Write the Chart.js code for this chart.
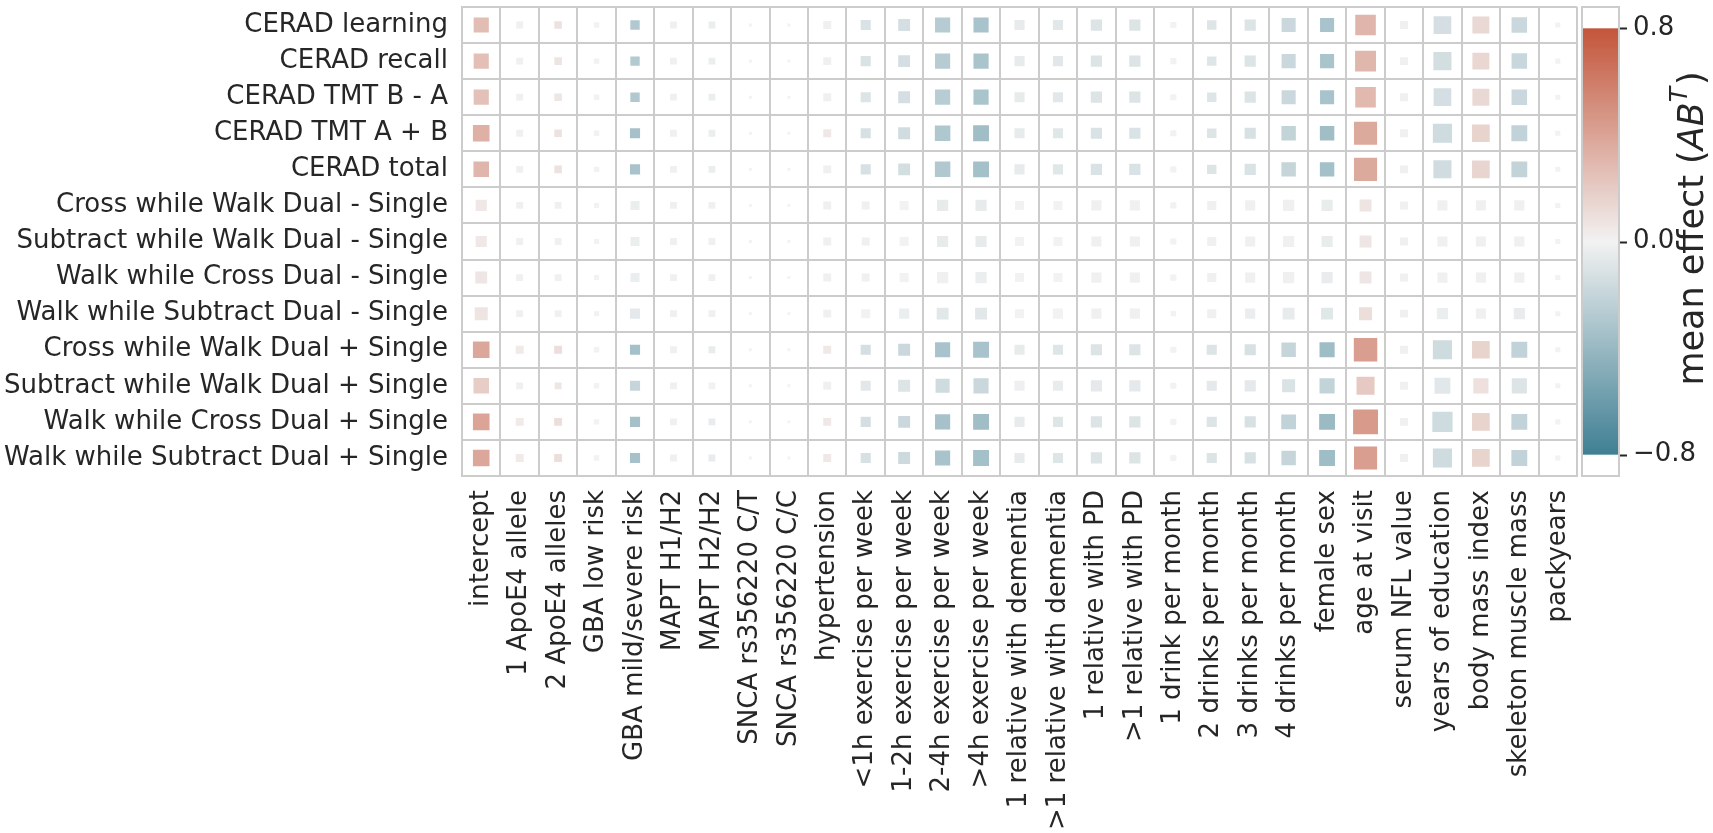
<!DOCTYPE html>
<html>
<head>
<meta charset="utf-8">
<script src="https://cdn.jsdelivr.net/npm/chart.js@4.4.1/dist/chart.umd.min.js"></script>
<style>
html, body { margin: 0; padding: 0; background: #ffffff; }
#wrap { width: 1713px; height: 833px; position: relative; }
</style>
</head>
<body>
<div id="wrap"><canvas id="c"></canvas></div>
<script>
// ---------------- data ----------------
const rowLabels = [
  'CERAD learning', 'CERAD recall', 'CERAD TMT B - A', 'CERAD TMT A + B', 'CERAD total',
  'Cross while Walk Dual - Single', 'Subtract while Walk Dual - Single',
  'Walk while Cross Dual - Single', 'Walk while Subtract Dual - Single',
  'Cross while Walk Dual + Single', 'Subtract while Walk Dual + Single',
  'Walk while Cross Dual + Single', 'Walk while Subtract Dual + Single'
];

const colLabels = [
  'intercept', '1 ApoE4 allele', '2 ApoE4 alleles', 'GBA low risk', 'GBA mild/severe risk',
  'MAPT H1/H2', 'MAPT H2/H2', 'SNCA rs356220 C/T', 'SNCA rs356220 C/C', 'hypertension',
  '<1h exercise per week', '1-2h exercise per week', '2-4h exercise per week', '>4h exercise per week',
  '1 relative with dementia', '>1 relative with dementia', '1 relative with PD', '>1 relative with PD',
  '1 drink per month', '2 drinks per month', '3 drinks per month', '4 drinks per month',
  'female sex', 'age at visit', 'serum NFL value', 'years of education', 'body mass index',
  'skeleton muscle mass', 'packyears'
];

// mean effect (colour)
const effect = [
  [0.27,0.01,0.08,0.00,-0.29,0.01,-0.03,0.00,0.00,0.01,-0.11,-0.13,-0.27,-0.33,-0.05,-0.07,-0.10,-0.10,0.00,-0.09,-0.10,-0.18,-0.33,0.31,0.01,-0.13,0.13,-0.18,0.00],
  [0.26,0.01,0.07,0.00,-0.28,0.01,-0.03,0.00,0.00,0.01,-0.11,-0.13,-0.27,-0.32,-0.05,-0.07,-0.10,-0.10,0.00,-0.09,-0.10,-0.18,-0.32,0.30,0.01,-0.14,0.14,-0.19,0.00],
  [0.25,0.01,0.06,0.00,-0.29,0.01,-0.03,0.00,0.00,0.01,-0.10,-0.13,-0.26,-0.32,-0.05,-0.07,-0.10,-0.10,0.00,-0.09,-0.10,-0.18,-0.33,0.29,0.01,-0.13,0.13,-0.18,0.00],
  [0.33,0.01,0.08,0.00,-0.34,0.01,-0.03,0.00,0.00,0.05,-0.12,-0.15,-0.30,-0.36,-0.05,-0.08,-0.11,-0.11,0.00,-0.10,-0.12,-0.21,-0.36,0.37,0.01,-0.16,0.16,-0.22,0.00],
  [0.31,0.01,0.08,0.00,-0.33,0.01,-0.03,0.00,0.00,0.01,-0.12,-0.14,-0.29,-0.35,-0.05,-0.08,-0.11,-0.11,0.00,-0.10,-0.11,-0.20,-0.35,0.37,0.01,-0.15,0.15,-0.21,0.00],
  [0.05,0.01,0.01,0.00,-0.03,0.01,0.01,0.00,0.00,0.01,0.01,0.00,-0.05,-0.05,0.00,0.00,0.01,0.01,0.00,0.01,0.01,0.01,-0.04,0.07,0.01,0.01,0.01,0.01,0.00],
  [0.05,0.01,0.01,0.00,-0.03,0.01,0.01,0.00,0.00,0.01,0.01,0.00,-0.05,-0.05,0.00,0.00,0.01,0.01,0.00,0.01,0.01,0.01,-0.04,0.06,0.01,0.01,0.01,0.01,0.00],
  [0.06,0.01,0.01,0.00,-0.03,0.01,0.01,0.00,0.00,0.01,0.01,0.00,0.01,-0.03,0.00,0.00,0.01,0.01,0.00,0.01,0.01,0.01,-0.04,0.06,0.01,0.01,0.01,0.01,0.00],
  [0.07,0.01,0.01,0.00,-0.06,0.01,0.01,0.00,0.00,0.01,0.00,-0.03,-0.07,-0.07,0.00,0.00,0.01,0.01,0.00,0.01,-0.03,-0.05,-0.08,0.10,0.01,-0.03,0.01,-0.04,0.00],
  [0.38,0.04,0.10,0.00,-0.35,0.01,-0.04,0.00,0.00,0.05,-0.13,-0.18,-0.33,-0.33,-0.05,-0.09,-0.10,-0.10,0.00,-0.10,-0.12,-0.20,-0.37,0.43,0.01,-0.16,0.16,-0.22,0.00],
  [0.19,0.01,0.06,0.00,-0.20,0.01,0.00,0.00,0.00,0.01,-0.07,-0.10,-0.16,-0.18,-0.02,-0.04,-0.06,-0.06,0.00,-0.06,-0.06,-0.11,-0.21,0.21,0.01,-0.07,0.09,-0.10,0.00],
  [0.40,0.04,0.10,0.00,-0.35,0.01,-0.04,0.00,0.00,0.05,-0.13,-0.18,-0.34,-0.36,-0.05,-0.09,-0.10,-0.10,0.00,-0.10,-0.12,-0.22,-0.39,0.45,0.01,-0.16,0.16,-0.22,0.00],
  [0.38,0.04,0.10,0.00,-0.34,0.01,-0.04,0.00,0.00,0.05,-0.12,-0.17,-0.33,-0.35,-0.05,-0.09,-0.10,-0.10,0.00,-0.10,-0.12,-0.20,-0.37,0.43,0.01,-0.16,0.16,-0.22,0.00]
];

// relative marker weight (share of a cell, encoded as square size)
const weight = [
  [0.42,0.19,0.21,0.15,0.26,0.19,0.19,0.08,0.08,0.22,0.28,0.33,0.42,0.42,0.28,0.28,0.31,0.31,0.17,0.26,0.31,0.39,0.39,0.57,0.22,0.49,0.47,0.43,0.14],
  [0.42,0.19,0.21,0.15,0.26,0.19,0.19,0.08,0.08,0.22,0.28,0.33,0.42,0.42,0.28,0.28,0.31,0.31,0.17,0.26,0.31,0.39,0.39,0.58,0.22,0.50,0.47,0.43,0.14],
  [0.42,0.19,0.21,0.15,0.26,0.19,0.19,0.08,0.08,0.22,0.28,0.33,0.42,0.42,0.28,0.28,0.31,0.31,0.17,0.26,0.31,0.39,0.39,0.57,0.22,0.49,0.47,0.43,0.14],
  [0.46,0.19,0.21,0.15,0.28,0.19,0.19,0.08,0.08,0.22,0.28,0.33,0.43,0.44,0.28,0.28,0.31,0.31,0.17,0.26,0.31,0.40,0.40,0.64,0.22,0.53,0.49,0.44,0.14],
  [0.43,0.19,0.21,0.15,0.28,0.19,0.19,0.08,0.08,0.22,0.28,0.33,0.43,0.44,0.28,0.28,0.31,0.31,0.17,0.26,0.31,0.40,0.40,0.64,0.22,0.50,0.49,0.44,0.14],
  [0.31,0.19,0.19,0.14,0.25,0.19,0.19,0.08,0.08,0.22,0.22,0.25,0.31,0.31,0.25,0.25,0.28,0.28,0.17,0.25,0.28,0.31,0.31,0.33,0.22,0.28,0.28,0.28,0.14],
  [0.31,0.19,0.19,0.14,0.25,0.19,0.19,0.08,0.08,0.22,0.22,0.25,0.31,0.31,0.25,0.25,0.28,0.28,0.17,0.25,0.28,0.31,0.31,0.33,0.22,0.28,0.28,0.28,0.14],
  [0.33,0.19,0.19,0.14,0.25,0.19,0.19,0.08,0.08,0.22,0.22,0.25,0.31,0.31,0.25,0.25,0.28,0.28,0.17,0.25,0.28,0.31,0.31,0.33,0.22,0.28,0.28,0.28,0.14],
  [0.36,0.19,0.19,0.14,0.28,0.19,0.19,0.08,0.08,0.22,0.25,0.28,0.33,0.33,0.25,0.28,0.28,0.28,0.15,0.25,0.28,0.33,0.33,0.36,0.22,0.31,0.28,0.31,0.14],
  [0.46,0.22,0.22,0.15,0.28,0.19,0.19,0.08,0.08,0.22,0.28,0.33,0.42,0.44,0.28,0.28,0.31,0.31,0.17,0.28,0.31,0.40,0.42,0.65,0.22,0.53,0.49,0.44,0.14],
  [0.43,0.19,0.19,0.15,0.28,0.19,0.19,0.08,0.08,0.22,0.28,0.33,0.39,0.42,0.28,0.28,0.31,0.31,0.17,0.28,0.31,0.36,0.42,0.50,0.22,0.44,0.42,0.42,0.14],
  [0.46,0.22,0.22,0.15,0.28,0.19,0.19,0.08,0.08,0.22,0.28,0.33,0.42,0.44,0.28,0.28,0.31,0.31,0.17,0.28,0.31,0.41,0.44,0.69,0.22,0.56,0.49,0.44,0.14],
  [0.46,0.22,0.22,0.15,0.28,0.19,0.19,0.08,0.08,0.22,0.28,0.33,0.42,0.44,0.28,0.28,0.31,0.31,0.17,0.28,0.31,0.40,0.44,0.64,0.22,0.53,0.49,0.44,0.14]
];

const colorbarTicks = [0.8, 0.0, -0.8];
const colorLimit = 0.8;

// ---------------- styling ----------------
const FONT = '"DejaVu Sans", "Liberation Sans", sans-serif';
const TEXT = '#262626';
const GRID = '#cccccc';
const NEG = [63, 127, 147];   // diverging palette, blue end
const MID = [242, 242, 242];  // light centre
const POS = [195, 85, 58];    // red end

function mix(a, b, t) {
  return [0, 1, 2].map(i => Math.round(a[i] + (b[i] - a[i]) * t));
}
function rgb(c) { return 'rgb(' + c.join(',') + ')'; }
function colorFor(v) {
  const t = Math.max(-1, Math.min(1, v / colorLimit));
  return rgb(t >= 0 ? mix(MID, POS, t) : mix(MID, NEG, -t));
}

Chart.defaults.font.family = FONT;
Chart.defaults.color = TEXT;

const points = [];
rowLabels.forEach((r, i) => {
  colLabels.forEach((c, j) => {
    points.push({ x: c, y: r, v: effect[i][j], s: weight[i][j] });
  });
});

function markerRadius(ctx) {
  if (!ctx.raw) return 0;
  const ys = ctx.chart.scales.y;
  const cell = ys.height / rowLabels.length;
  // rect point side = radius * sqrt(2)
  return ctx.raw.s * cell / Math.SQRT2;
}

const colorbarPlugin = {
  id: 'colorbar',
  afterDraw(chart) {
    const s = chart.scales.cb;
    const ctx = chart.ctx;
    const x0 = s.left + 6, x1 = s.left + 41;
    const yTop = s.getPixelForValue(colorLimit);
    const yBot = s.getPixelForValue(-colorLimit);
    ctx.save();
    // white box + gradient
    ctx.fillStyle = '#ffffff';
    ctx.fillRect(x0, s.top, x1 - x0, s.bottom - s.top);
    const g = ctx.createLinearGradient(0, yTop, 0, yBot);
    g.addColorStop(0, rgb(POS));
    g.addColorStop(0.5, rgb(MID));
    g.addColorStop(1, rgb(NEG));
    ctx.fillStyle = g;
    ctx.fillRect(x0, yTop, x1 - x0, yBot - yTop);
    ctx.strokeStyle = GRID;
    ctx.lineWidth = 2;
    ctx.strokeRect(x0 - 1, s.top, x1 - x0 + 2, s.bottom - s.top);
    // tick marks
    ctx.strokeStyle = TEXT;
    ctx.lineWidth = 2;
    colorbarTicks.forEach(v => {
      const y = Math.round(s.getPixelForValue(v)) + 0.5;
      ctx.beginPath();
      ctx.moveTo(x1 + 2, y);
      ctx.lineTo(x1 + 9, y);
      ctx.stroke();
    });
    // axis title: mean effect (AB^T), rotated
    const F = 35;
    const parts = [
      { t: 'mean effect (', f: F + 'px ' + FONT, dy: 0 },
      { t: 'AB', f: 'italic ' + F + 'px ' + FONT, dy: 0 },
      { t: 'T', f: 'italic ' + Math.round(F * 0.7) + 'px ' + FONT, dy: -F * 0.45 },
      { t: ')', f: F + 'px ' + FONT, dy: 0 }
    ];
    let total = 0;
    parts.forEach(p => { ctx.font = p.f; p.w = ctx.measureText(p.t).width; total += p.w; });
    ctx.translate(s.left + 126, (s.top + s.bottom) / 2 - 12);
    ctx.rotate(-Math.PI / 2);
    ctx.fillStyle = TEXT;
    ctx.textBaseline = 'alphabetic';
    ctx.textAlign = 'left';
    let x = -total / 2;
    parts.forEach(p => {
      ctx.font = p.f;
      ctx.fillText(p.t, x, p.dy);
      x += p.w + (p.t === 'T' ? 2 : 0);
    });
    ctx.restore();
  }
};

new Chart(document.getElementById('c'), {
  type: 'scatter',
  data: {
    datasets: [{
      data: points,
      pointStyle: 'rect',
      borderWidth: 0,
      backgroundColor: ctx => ctx.raw ? colorFor(ctx.raw.v) : 'rgba(0,0,0,0)',
      pointRadius: markerRadius,
      pointHoverRadius: markerRadius
    }]
  },
  options: {
    responsive: true,
    maintainAspectRatio: false,
    animation: false,
    events: [],
    layout: { padding: { top: 7, left: 0, right: 0, bottom: 0 } },
    plugins: { legend: { display: false }, tooltip: { enabled: false } },
    scales: {
      x: {
        type: 'category',
        labels: colLabels,
        position: 'bottom',
        offset: true,
        grid: { offset: true, color: GRID, lineWidth: 2, drawTicks: false },
        border: { color: GRID, width: 2 },
        ticks: {
          autoSkip: false, minRotation: 90, maxRotation: 90, padding: 14,
          color: TEXT, font: { family: FONT, size: 26 }
        },
        afterFit(s) { s.height = 357; s.paddingLeft = 0; s.paddingRight = 0; }
      },
      y: {
        type: 'category',
        labels: rowLabels,
        position: 'left',
        offset: true,
        grid: { offset: true, color: GRID, lineWidth: 2, drawTicks: false },
        border: { color: GRID, width: 2 },
        ticks: { autoSkip: false, padding: 14, color: TEXT, font: { family: FONT, size: 26 } },
        afterFit(s) { s.width = 462; s.paddingTop = 0; s.paddingBottom = 0; }
      },
      cb: {
        type: 'linear',
        position: 'right',
        min: -0.88,
        max: 0.88,
        grid: { display: false, drawTicks: false, drawOnChartArea: false },
        border: { display: false },
        ticks: {
          padding: 56, color: TEXT, font: { family: FONT, size: 26 },
          callback: v => (v < 0 ? '\u2212' : '') + Math.abs(v).toFixed(1)
        },
        afterBuildTicks(s) { s.ticks = colorbarTicks.map(v => ({ value: v })); },
        afterFit(s) { s.width = 136; s.paddingTop = 0; s.paddingBottom = 0; }
      }
    }
  },
  plugins: [colorbarPlugin]
});
</script>
</body>
</html>
